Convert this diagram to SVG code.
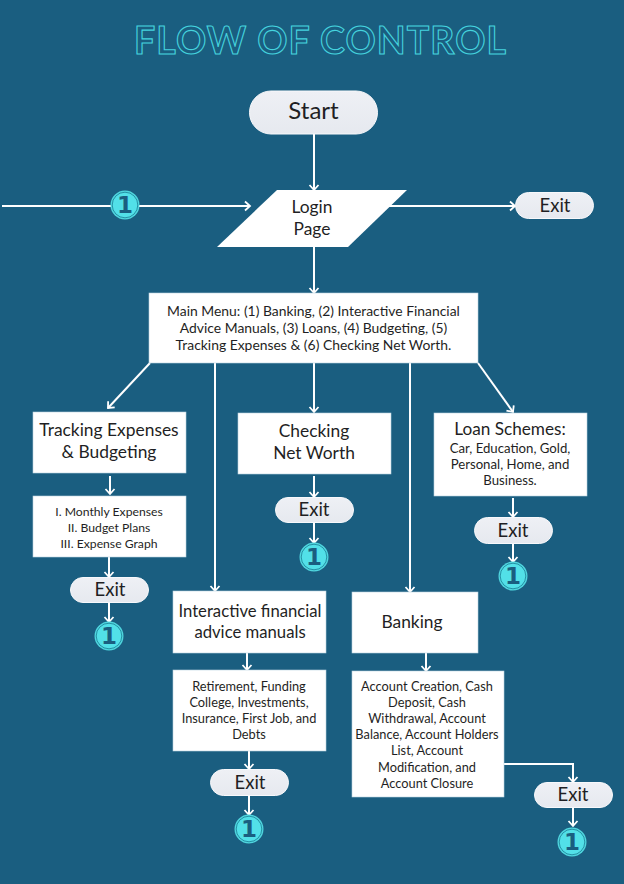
<svg xmlns="http://www.w3.org/2000/svg" width="624" height="884" viewBox="0 0 624 884">
<defs>
<marker id="ah" markerUnits="userSpaceOnUse" markerWidth="14" markerHeight="14" refX="10.5" refY="7" orient="auto"><path d="M5.500 2.500 L10.500 7 L5.500 11.500" fill="none" stroke="#fff" stroke-width="1.8"/></marker>
<linearGradient id="pill" x1="0" y1="0" x2="0" y2="1"><stop offset="0" stop-color="#eef0f5"/><stop offset="1" stop-color="#e6e9ef"/></linearGradient>
<g id="badge"><circle r="14.500" fill="#4fd5de"/><circle r="12.800" fill="#52e0e8" stroke="#1a7f96" stroke-width="0.8"/><text y="8" text-anchor="middle" font-size="23" font-weight="700" style="fill:#1a5e80;font-family:'DejaVu Sans',sans-serif">1</text></g>
</defs>
<style>
.c{fill:none;stroke:#fff;stroke-width:2;marker-end:url(#ah)}
.b{fill:#fff;stroke:#b9d2df;stroke-width:.6}
.p{fill:url(#pill);stroke:#f7f8fb;stroke-width:1}
text{font-family:Lato,'Noto Sans',sans-serif;fill:#1f1f24;text-anchor:middle}
.s{font-size:12.2px}.a{font-size:12.800px}.lo{font-size:13.200px}.m{font-size:13.900px}.l{font-size:17.400px}.i{font-size:16.700px}.e{font-size:18.500px}
</style>
<rect width="624" height="884" fill="#1a5e80"/>
<text x="320" y="53.500" font-size="37.500" font-weight="700" textLength="372" lengthAdjust="spacing" style="fill:none;stroke:#45d3de;stroke-width:1.100">FLOW OF CONTROL</text>
<g id="connectors">
<path class="c" d="M314 134V190"/>
<path class="c" d="M2 206H250"/>
<path class="c" d="M388 206H515"/>
<path class="c" d="M314 247V293"/>
<path class="c" d="M150 363L108 408"/>
<path class="c" d="M215 363V591"/>
<path class="c" d="M314 363V412"/>
<path class="c" d="M410 363V592"/>
<path class="c" d="M478 363L513 412"/>
<path class="c" d="M110 476V494"/>
<path class="c" d="M109 557V577"/>
<path class="c" d="M109 603V622"/>
<path class="c" d="M314 476V497"/>
<path class="c" d="M314 523V543"/>
<path class="c" d="M513 498V517"/>
<path class="c" d="M513 544V562"/>
<path class="c" d="M247 653V670"/>
<path class="c" d="M249 751V769"/>
<path class="c" d="M249 796V815"/>
<path class="c" d="M426 653V671"/>
<path class="c" d="M504 764H573V782"/>
<path class="c" d="M573 808V826"/>
</g>
<g id="start"><rect class="p" x="249.500" y="91" width="128" height="43" rx="21.500"/><text x="313.500" y="119" font-size="24">Start</text></g>
<g id="login"><polygon points="277,190 407,190 348,247 217,247" fill="#fff"/><text class="l" x="312" y="213">Login</text><text class="l" x="312" y="235">Page</text></g>
<g id="exit-login"><rect class="p" x="515.500" y="192.500" width="78" height="26" rx="13"/><text class="e" x="555" y="212">Exit</text></g>
<g id="main-menu"><rect class="b" x="149" y="293" width="329" height="70"/><text class="m" x="313.500" y="316">Main Menu: (1) Banking, (2) Interactive Financial</text><text class="m" x="313.500" y="333">Advice Manuals, (3) Loans, (4) Budgeting, (5)</text><text class="m" x="313.500" y="350">Tracking Expenses &amp; (6) Checking Net Worth.</text></g>
<g id="tracking"><rect class="b" x="33" y="412" width="153" height="61"/><text class="l" x="109" y="436">Tracking Expenses</text><text class="l" x="109" y="458">&amp; Budgeting</text></g>
<g id="tracking-list"><rect class="b" x="33" y="496" width="153" height="61"/><text class="s" x="109" y="516">I. Monthly Expenses</text><text class="s" x="109" y="532">II. Budget Plans</text><text class="s" x="109" y="548">III. Expense Graph</text></g>
<g id="exit-tracking"><rect class="p" x="70.500" y="577.500" width="78" height="25" rx="12.500"/><text class="e" x="110" y="596">Exit</text></g>
<g id="badge-tracking"><use href="#badge" x="109" y="636"/></g>
<g id="checking"><rect class="b" x="238" y="413" width="153" height="61"/><text class="l" x="314" y="437">Checking</text><text class="l" x="314" y="459">Net Worth</text></g>
<g id="exit-checking"><rect class="p" x="275.500" y="497.500" width="78" height="25" rx="12.500"/><text class="e" x="314" y="516">Exit</text></g>
<g id="badge-checking"><use href="#badge" x="314" y="557"/></g>
<g id="loans"><rect class="b" x="434" y="413" width="153" height="83"/><text x="510" y="435" font-size="17.200">Loan Schemes:</text><text class="lo" x="510" y="453">Car, Education, Gold,</text><text class="lo" x="510" y="469">Personal, Home,  and</text><text class="lo" x="510" y="485">Business.</text></g>
<g id="exit-loans"><rect class="p" x="474.500" y="517.500" width="78" height="26" rx="13"/><text class="e" x="513" y="537">Exit</text></g>
<g id="badge-loans"><use href="#badge" x="513" y="576"/></g>
<g id="advice"><rect class="b" x="173" y="591" width="153" height="62"/><text class="i" x="250" y="617">Interactive financial</text><text class="i" x="250" y="638">advice manuals</text></g>
<g id="advice-list"><rect class="b" x="173" y="670" width="153" height="81"/><text class="a" x="249" y="691">Retirement, Funding</text><text class="a" x="249" y="707">College, Investments,</text><text class="a" x="249" y="723">Insurance, First Job, and</text><text class="a" x="249" y="739">Debts</text></g>
<g id="exit-advice"><rect class="p" x="210.500" y="769.500" width="78" height="26" rx="13"/><text class="e" x="250" y="789">Exit</text></g>
<g id="badge-advice"><use href="#badge" x="249" y="829"/></g>
<g id="banking"><rect class="b" x="352" y="592" width="126" height="61"/><text class="l" x="412" y="628">Banking</text></g>
<g id="banking-list"><rect class="b" x="352" y="671" width="152" height="126"/><text class="a" x="427" y="691">Account Creation, Cash</text><text class="a" x="427" y="707">Deposit, Cash</text><text class="a" x="427" y="723">Withdrawal, Account</text><text class="a" x="427" y="739">Balance, Account Holders</text><text class="a" x="427" y="755">List, Account</text><text class="a" x="427" y="772">Modification, and</text><text class="a" x="427" y="788">Account Closure</text></g>
<g id="exit-banking"><rect class="p" x="534.500" y="782.500" width="78" height="25" rx="12.500"/><text class="e" x="573" y="801">Exit</text></g>
<g id="badge-banking"><use href="#badge" x="572" y="842"/></g>
<g id="badge-login"><use href="#badge" x="125" y="205"/></g>
</svg>
